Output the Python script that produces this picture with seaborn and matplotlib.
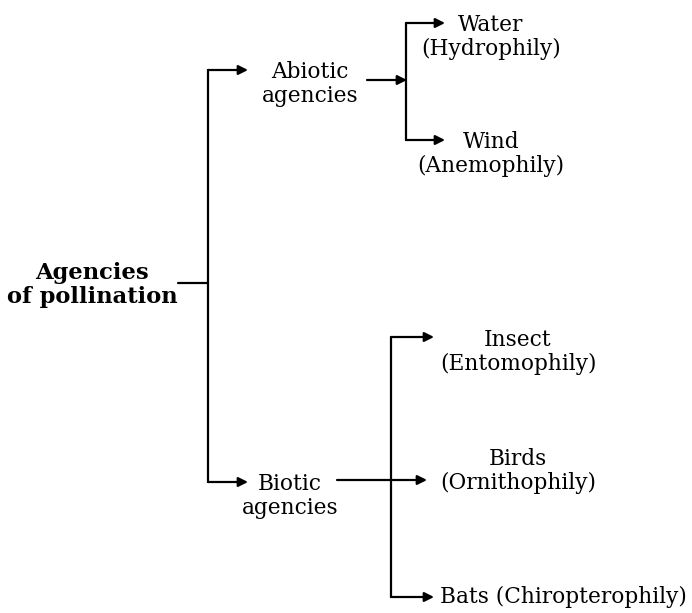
import matplotlib
matplotlib.use('Agg')
import matplotlib.pyplot as plt
import seaborn as sns

# Node labels
root_label = 'Agencies\nof pollination'
group_labels = ['Abiotic\nagencies', 'Biotic\nagencies']
abiotic_labels = ['Water\n(Hydrophily)', 'Wind\n(Anemophily)']
biotic_labels = ['Insect\n(Entomophily)', 'Birds\n(Ornithophily)', 'Bats (Chiropterophily)']

# Layout in pixel space (x right, y down)
root_xy = (92, 285)
trunk_x = 208
group_y = [70, 482]
group_text_x = [310, 290]
abiotic_split_x = 406
abiotic_y = [23, 140]
biotic_split_x = 391
biotic_y = [337, 480, 597]

sns.set_theme(style='white')
plt.rcParams['font.family'] = ['DejaVu Serif']
plt.rcParams['text.color'] = 'black'

fig = plt.figure(figsize=(6.92, 6.13), dpi=100)
ax = fig.add_axes([0, 0, 1, 1])
ax.set_xlim(0, 692)
ax.set_ylim(613, 0)
ax.axis('off')

fs = 15.6
lw = 1.6
arrow = dict(arrowstyle='-|>', mutation_scale=14, lw=lw, color='black', shrinkA=0, shrinkB=0)

def line(xs, ys):
    sns.lineplot(x=xs, y=ys, ax=ax, color='black', lw=lw, sort=False, estimator=None)

def arr(x0, y0, x1, y1):
    ax.annotate('', xy=(x1, y1), xytext=(x0, y0), arrowprops=arrow)

# root
ax.text(root_xy[0], root_xy[1], root_label, ha='center', va='center', fontsize=16.3,
        fontweight='bold', linespacing=1.1, color='black')
line([178, trunk_x], [283, 283])
line([trunk_x, trunk_x], [group_y[0], group_y[1]])
for gy, gx, lab in zip(group_y, group_text_x, group_labels):
    arr(trunk_x, gy, 248, gy)
    ax.text(gx, gy + 14, lab, ha='center', va='center', fontsize=fs, linespacing=1.1, color='black')

# abiotic branch
arr(367, 80, abiotic_split_x + 1, 80)
line([abiotic_split_x, abiotic_split_x], [abiotic_y[0], abiotic_y[1]])
for yy, lab in zip(abiotic_y, abiotic_labels):
    arr(abiotic_split_x, yy, 445, yy)
    ax.text(491, yy + 14, lab, ha='center', va='center', fontsize=fs, linespacing=1.1, color='black')

# biotic branch
line([biotic_split_x, biotic_split_x], [biotic_y[0], biotic_y[2]])
arr(337, biotic_y[1], 427, biotic_y[1])
arr(biotic_split_x, biotic_y[0], 434, biotic_y[0])
arr(biotic_split_x, biotic_y[2], 434, biotic_y[2])
ax.text(518, biotic_y[0] + 15, biotic_labels[0], ha='center', va='center', fontsize=fs, linespacing=1.1, color='black')
ax.text(518, biotic_y[1] - 9, biotic_labels[1], ha='center', va='center', fontsize=fs, linespacing=1.1, color='black')
ax.text(440, biotic_y[2], biotic_labels[2], ha='left', va='center', fontsize=fs, color='black')

fig.savefig('out.png', dpi=100)
